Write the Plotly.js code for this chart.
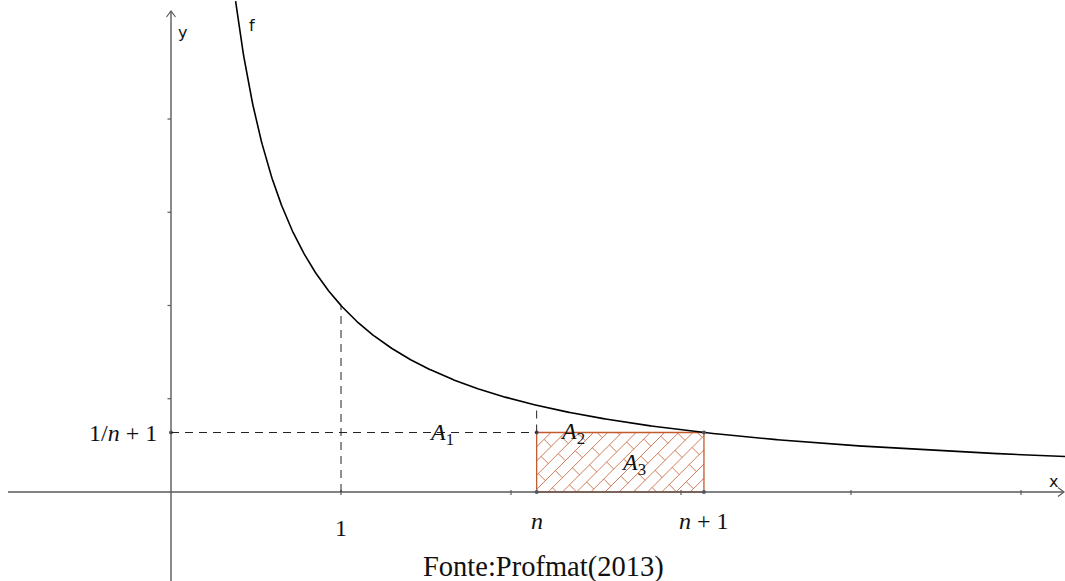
<!DOCTYPE html>
<html><head><meta charset="utf-8">
<script src="https://cdn.plot.ly/plotly-3.0.1.min.js"></script>
<style>html,body{margin:0;padding:0;background:#fff;}#chart{width:1065px;height:581px;}</style>
</head><body><div id="chart"></div>
<script>
// ---- data ----
const xTicks = [1, 2, 3, 4, 5];
const yTicks = [0.5, 1, 1.5, 2];
const curveStart = 0.38;       // f(x) = 1/x drawn from here to the right edge
const curveEnd = 5.26;
const nLeft = 2.151;           // x = n
const nRight = 3.135;          // x = n + 1
const xLabels = ['1', '<i>n</i>', '<i>n</i> + 1'];
const xLabelPos = [1, nLeft, nRight];
const areaLabels = ['<i>A</i><sub>1</sub>', '<i>A</i><sub>2</sub>', '<i>A</i><sub>3</sub>'];
const yLevelLabel = '1/<i>n</i> + 1';
const caption = 'Fonte:Profmat(2013)';

// ---- layout constants (pixel frame) ----
const W = 1065, H = 581;
const ox = 171, oy = 492, sx = 170, sy = 186.5;
const px2x = u => (u - ox) / sx;
const py2y = v => (oy - v) / sy;
const X = x => ox + x * sx;
const Y = y => oy - y * sy;
const axisCol = '#5a5a5a';
const hatch = '#c25a2e';

const f = x => 1 / x;

// curve
const cx = [], cy = [];
for (let i = 0; i <= 1000; i++) {
  const x = curveStart + (curveEnd - curveStart) * i / 1000;
  cx.push(x); cy.push(f(x));
}
const rectTop = f(nRight);

// brick hatch computed in pixel space, clipped to rectangle
const uL = X(nLeft), uR = X(nRight), vT = Y(rectTop), vB = Y(0);
function clip(u0, v0, u1, v1) {
  let t0 = 0, t1 = 1;
  const du = u1 - u0, dv = v1 - v0;
  const p = [-du, du, -dv, dv], q = [u0 - uL, uR - u0, v0 - vT, vB - v0];
  for (let i = 0; i < 4; i++) {
    if (p[i] === 0) { if (q[i] < 0) return null; continue; }
    const r = q[i] / p[i];
    if (p[i] < 0) { if (r > t1) return null; if (r > t0) t0 = r; }
    else { if (r < t0) return null; if (r < t1) t1 = r; }
  }
  if (t1 - t0 < 1e-6) return null;
  return [u0 + t0 * du, v0 + t0 * dv, u0 + t1 * du, v0 + t1 * dv];
}
const hx = [], hy = [];
function addSeg(s) {
  if (!s) return;
  hx.push(px2x(s[0]), px2x(s[2]), null);
  hy.push(py2y(s[1]), py2y(s[3]), null);
}
const sp = 14.2, br = 40;
const cMin = uL + vT - 2 * sp, cMax = uR + vB + 2 * sp;
let k = 0;
for (let c = cMin; c <= cMax; c += sp, k++) {
  addSeg(clip(c - vB - 50, vB + 50, c - vT + 50, vT - 50));
  const off = (k % 2) * (br / 2);
  for (let d = (uL - vB) - 2 * br + off; d <= uR - vT + 2 * br; d += br) {
    addSeg(clip((c + d) / 2, (c - d) / 2, (c + sp + d) / 2, (c + sp - d) / 2));
  }
}

const traces = [
  { x: hx, y: hy, mode: 'lines', line: { color: hatch, width: 0.8 }, hoverinfo: 'skip', connectgaps: false },
  { x: [nLeft, nRight, nRight, nLeft, nLeft], y: [0, 0, rectTop, rectTop, 0], mode: 'lines',
    line: { color: hatch, width: 1.3 }, hoverinfo: 'skip' },
  { x: cx, y: cy, mode: 'lines', line: { color: '#000', width: 1.6 }, hoverinfo: 'skip' },
  { x: [nLeft, nRight, nLeft, nRight, 0], y: [0, 0, rectTop, rectTop, rectTop], mode: 'markers',
    marker: { size: 4, color: '#4b5163' }, hoverinfo: 'skip' }
];

const shapes = [];
shapes.push({ type: 'line', xref: 'x', yref: 'y', x0: px2x(8), x1: px2x(1063), y0: 0, y1: 0, line: { color: axisCol, width: 1.4 } });
shapes.push({ type: 'line', xref: 'x', yref: 'y', x0: 0, x1: 0, y0: py2y(581), y1: py2y(11), line: { color: axisCol, width: 1.4 } });
shapes.push({ type: 'path', xref: 'x', yref: 'y',
  path: `M${px2x(ox - 4.5)},${py2y(17)} L0,${py2y(11)} L${px2x(ox + 4.5)},${py2y(17)}`, line: { color: axisCol, width: 1.2 } });
shapes.push({ type: 'path', xref: 'x', yref: 'y',
  path: `M${px2x(1058)},${py2y(oy - 4.5)} L${px2x(1064)},0 L${px2x(1058)},${py2y(oy + 4.5)}`, line: { color: axisCol, width: 1.2 } });
xTicks.forEach(t => shapes.push({ type: 'line', xref: 'x', yref: 'y', x0: t, x1: t, y0: py2y(oy - 2), y1: py2y(oy + 3), line: { color: axisCol, width: 1.2 } }));
yTicks.forEach(t => shapes.push({ type: 'line', xref: 'x', yref: 'y', x0: px2x(ox - 3.5), x1: 0, y0: t, y1: t, line: { color: axisCol, width: 1.2 } }));
const dash = { color: '#222', width: 1, dash: '8px,6px' };
shapes.push({ type: 'line', xref: 'x', yref: 'y', x0: 1, x1: 1, y0: 0, y1: f(1), line: dash });
shapes.push({ type: 'line', xref: 'x', yref: 'y', x0: 0, x1: nLeft, y0: rectTop, y1: rectTop, line: dash });
shapes.push({ type: 'line', xref: 'x', yref: 'y', x0: nLeft, x1: nLeft, y0: rectTop, y1: f(nLeft), line: dash });

const serif = { family: 'Liberation Serif, DejaVu Serif, serif', size: 24, color: '#111' };
const sans = { family: 'DejaVu Sans, sans-serif', size: 16, color: '#111' };
const ann = [];
xLabels.forEach((t, i) => ann.push({ x: xLabelPos[i], y: py2y(i === 0 ? 528 : 521), text: t, showarrow: false, font: serif, xanchor: 'center', yanchor: 'middle' }));
ann.push({ x: px2x(159), y: rectTop, text: yLevelLabel, showarrow: false, font: serif, xanchor: 'right', yanchor: 'middle' });
ann.push({ x: px2x(441), y: py2y(434), text: areaLabels[0], showarrow: false, font: serif, xanchor: 'center', yanchor: 'middle' });
ann.push({ x: px2x(572), y: py2y(433), text: areaLabels[1], showarrow: false, font: serif, xanchor: 'center', yanchor: 'middle' });
ann.push({ x: px2x(633), y: py2y(464), text: areaLabels[2], showarrow: false, font: serif, xanchor: 'center', yanchor: 'middle' });
ann.push({ x: px2x(1053), y: py2y(481), text: 'x', showarrow: false, font: sans, xanchor: 'center', yanchor: 'middle' });
ann.push({ x: px2x(182), y: py2y(32), text: 'y', showarrow: false, font: sans, xanchor: 'center', yanchor: 'middle' });
ann.push({ x: px2x(252), y: py2y(25), text: 'f', showarrow: false, font: sans, xanchor: 'center', yanchor: 'middle' });
ann.push({ x: px2x(543), y: py2y(567), text: caption, showarrow: false, font: Object.assign({}, serif, { size: 28.5 }), xanchor: 'center', yanchor: 'middle' });

const layout = {
  width: W, height: H, margin: { l: 0, r: 0, t: 0, b: 0 },
  paper_bgcolor: '#fff', plot_bgcolor: '#fff', showlegend: false,
  xaxis: { range: [px2x(0), px2x(W)], visible: false, fixedrange: true },
  yaxis: { range: [py2y(H), py2y(0)], visible: false, fixedrange: true },
  shapes: shapes, annotations: ann
};
Plotly.newPlot('chart', traces, layout, { displayModeBar: false, staticPlot: true });
</script></body></html>
